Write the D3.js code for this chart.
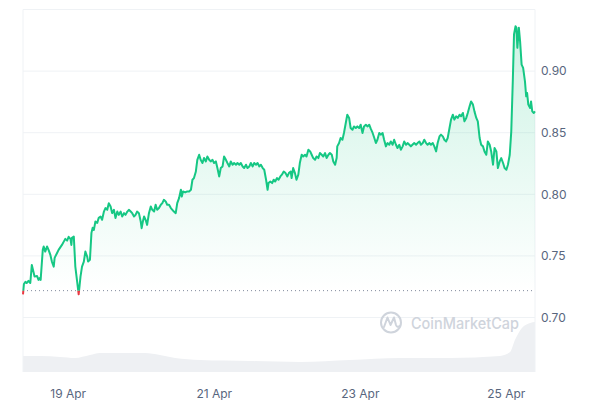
<!DOCTYPE html>
<html>
<head>
<meta charset="utf-8">
<script src="https://cdn.jsdelivr.net/npm/d3@7"></script>
<style>
  html, body { margin: 0; padding: 0; background: #ffffff; }
  svg { display: block; font-family: Inter, "Noto Sans", sans-serif; }
</style>
</head>
<body>
<svg id="chart" width="600" height="400"></svg>
<script>
// ---- data (hours since 18 Apr 00:00 UTC) ----
const hours = [
  9.3,9.6,10.1,10.5,11.1,11.7,12.2,13.1,13.9,14.4,
  14.8,15.1,15.8,16.1,16.6,17.2,17.7,18.3,18.8,19.4,
  19.7,20.5,21.0,22.1,22.7,23.2,23.8,24.3,24.9,25.2,
  25.4,26.0,26.5,27.1,27.6,28.2,28.7,29.3,29.8,30.4,
  30.7,31.3,31.8,32.2,32.6,33.1,33.7,34.2,34.8,35.3,
  35.9,36.4,37.0,37.5,38.1,38.6,39.2,39.7,40.3,40.8,
  41.4,41.9,42.5,43.0,43.6,44.1,44.7,45.2,45.8,46.3,
  46.8,47.4,48.0,48.3,48.7,49.1,49.6,50.1,50.7,51.3,
  51.8,52.4,52.9,53.4,54.0,54.6,55.1,55.6,56.2,56.7,
  57.3,57.9,58.4,58.9,59.5,60.0,60.6,61.2,61.5,61.9,
  62.6,63.3,63.9,64.5,65.0,65.5,66.1,66.6,67.2,67.7,
  68.3,68.8,69.4,69.9,70.5,71.0,71.6,72.1,72.7,73.2,
  73.8,74.3,74.9,75.4,76.0,76.5,77.1,77.6,78.2,78.7,
  79.3,79.8,80.4,80.9,81.5,82.0,82.6,83.1,83.7,84.2,
  84.8,85.3,85.9,86.4,87.0,87.5,88.1,88.6,89.2,89.7,
  90.0,90.6,91.2,91.7,92.2,92.8,93.3,93.9,94.4,95.0,
  95.6,96.2,96.7,97.3,97.6,98.1,98.7,99.2,99.8,100.3,
  100.9,101.4,102.0,102.5,103.1,103.7,104.2,104.7,105.3,105.8,
  106.4,106.9,107.5,108.0,108.6,109.1,109.7,110.2,110.8,111.3,
  111.9,112.4,112.6,113.2,113.7,114.3,114.8,115.4,115.9,116.5,
  117.0,117.6,118.1,118.7,119.2,119.8,120.3,120.9,121.4,122.0,
  122.5,123.1,123.6,124.2,124.7,125.3,125.8,126.4,126.9,127.5,
  128.0,128.6,129.1,129.7,130.2,130.8,131.3,131.9,132.4,133.0,
  133.5,134.1,134.6,135.2,135.7,136.3,136.8,137.3,137.9,138.5,
  139.0,139.6,140.1,140.7,141.2,141.8,142.3,142.9,143.4,144.0,
  144.5,145.1,145.6,146.2,146.7,147.3,147.8,148.4,148.9,149.5,
  150.0,150.6,151.1,151.7,152.2,152.8,153.3,153.9,154.4,155.0,
  155.5,156.1,156.6,157.2,157.7,158.3,158.8,159.4,159.9,160.5,
  161.0,161.6,162.1,162.7,163.2,163.8,164.3,164.9,165.4,166.0,
  166.5,167.1,167.6,168.2,168.7,169.3,169.8,170.3,170.7,171.2,
  171.5,171.8,172.3,172.7,173.2,173.7,174.3,174.7,175.0,175.4,
  176.0,176.3,176.7,177.2,177.6
];
const prices = [
  0.7188,0.7272,0.7289,0.7280,0.7297,0.7280,0.7427,0.7332,0.7337,0.7305,
  0.7321,0.7305,0.7549,0.7576,0.7535,0.7576,0.7549,0.7508,0.7454,0.7413,
  0.7484,0.7524,0.7549,0.7589,0.7616,0.7638,0.7624,0.7655,0.7638,0.7589,
  0.7646,0.7657,0.7413,0.7291,0.7188,0.7332,0.7413,0.7454,0.7535,0.7494,
  0.7454,0.7468,0.7687,0.7728,0.7711,0.7779,0.7768,0.7809,0.7820,0.7793,
  0.7860,0.7888,0.7874,0.7928,0.7901,0.7847,0.7874,0.7807,0.7860,0.7833,
  0.7860,0.7820,0.7847,0.7833,0.7860,0.7874,0.7860,0.7847,0.7820,0.7833,
  0.7860,0.7847,0.7779,0.7725,0.7779,0.7820,0.7793,0.7752,0.7847,0.7901,
  0.7874,0.7860,0.7915,0.7874,0.7888,0.7915,0.7928,0.7955,0.7942,0.7915,
  0.7915,0.7888,0.7874,0.7860,0.7847,0.7928,0.7969,0.8037,0.7982,0.8023,
  0.8015,0.8023,0.8023,0.8037,0.8118,0.8132,0.8183,0.8280,0.8321,0.8280,
  0.8254,0.8294,0.8267,0.8307,0.8280,0.8267,0.8280,0.8254,0.8267,0.8213,
  0.8145,0.8213,0.8226,0.8307,0.8280,0.8254,0.8226,0.8267,0.8240,0.8254,
  0.8240,0.8254,0.8240,0.8254,0.8226,0.8213,0.8240,0.8213,0.8226,0.8254,
  0.8226,0.8254,0.8240,0.8254,0.8226,0.8240,0.8213,0.8199,0.8118,0.8037,
  0.8091,0.8104,0.8091,0.8118,0.8104,0.8132,0.8118,0.8145,0.8159,0.8185,
  0.8172,0.8145,0.8172,0.8185,0.8132,0.8213,0.8172,0.8118,0.8159,0.8254,
  0.8321,0.8307,0.8321,0.8307,0.8362,0.8348,0.8321,0.8294,0.8280,0.8307,
  0.8294,0.8335,0.8321,0.8307,0.8335,0.8294,0.8321,0.8335,0.8321,0.8267,
  0.8240,0.8294,0.8389,0.8416,0.8457,0.8443,0.8498,0.8579,0.8646,0.8620,
  0.8538,0.8524,0.8551,0.8538,0.8551,0.8538,0.8565,0.8498,0.8551,0.8565,
  0.8551,0.8565,0.8533,0.8500,0.8463,0.8416,0.8443,0.8498,0.8484,0.8498,
  0.8443,0.8389,0.8416,0.8402,0.8429,0.8402,0.8443,0.8402,0.8376,0.8402,
  0.8362,0.8389,0.8429,0.8402,0.8416,0.8402,0.8389,0.8402,0.8416,0.8402,
  0.8416,0.8429,0.8402,0.8416,0.8443,0.8416,0.8402,0.8416,0.8402,0.8416,
  0.8389,0.8348,0.8416,0.8470,0.8484,0.8470,0.8443,0.8429,0.8457,0.8538,
  0.8606,0.8646,0.8606,0.8633,0.8620,0.8646,0.8633,0.8660,0.8592,0.8620,
  0.8660,0.8714,0.8754,0.8728,0.8673,0.8620,0.8592,0.8457,0.8402,0.8389,
  0.8348,0.8321,0.8429,0.8402,0.8348,0.8240,0.8376,0.8348,0.8213,0.8267,
  0.8294,0.8254,0.8213,0.8199,0.8240,0.8321,0.8511,0.8917,0.9297,0.9364,
  0.9351,0.9189,0.9351,0.9242,0.9053,0.9026,0.8917,0.8795,0.8823,0.8728,
  0.8701,0.8754,0.8673,0.8660,0.8673
];
const baselinePrice = 0.7218;            // dotted reference (open) price

const volHours  = [9.3, 14.9, 21.5, 26.4, 31.3, 34.6, 49.4, 54.3, 59.3, 67.5, 83.9, 100.4, 116.8, 133.2, 149.7, 166.1, 169.4, 171.0, 173.3, 176.0, 177.6];
const volumes   = [16, 16, 15, 14, 17, 19, 19, 17, 14, 12, 11, 10, 12, 14, 14, 16, 20, 32, 44, 49, 50];

const yTicks = [0.70, 0.75, 0.80, 0.85, 0.90];
const xTickLabels = ["19 Apr", "21 Apr", "23 Apr", "25 Apr"];
const xTickHours = [24, 72, 120, 168];

(function () {
// ---- setup ----
const base = Date.UTC(2024, 3, 18);
const toDate = h => new Date(base + h * 3600e3);
const series = hours.map((h, i) => ({ t: toDate(h), v: prices[i] }));
const volSeries = volHours.map((h, i) => ({ t: toDate(h), v: volumes[i] }));

const pLeft = 23, pRight = 535, pTop = 9.5, pBottom = 372;
const svg = d3.select("#chart");

const x = d3.scaleUtc().domain(d3.extent(series, d => d.t)).range([pLeft, pRight]);
const y = d3.scaleLinear().domain([0.70, 0.95]).range([317.5, pTop]);
const yv = d3.scaleLinear().domain([0, 50]).range([pBottom, 322]);

const defs = svg.append("defs");
const grad = defs.append("linearGradient").attr("id", "fillGrad")
  .attr("gradientUnits", "userSpaceOnUse")
  .attr("x1", 0).attr("x2", 0).attr("y1", y(0.94)).attr("y2", y(baselinePrice));
grad.append("stop").attr("offset", 0).attr("stop-color", "#16c784").attr("stop-opacity", 0.22);
grad.append("stop").attr("offset", 1).attr("stop-color", "#16c784").attr("stop-opacity", 0.0);

defs.append("clipPath").attr("id", "above").append("rect")
  .attr("x", 0).attr("y", 0).attr("width", 600).attr("height", y(baselinePrice));
defs.append("clipPath").attr("id", "below").append("rect")
  .attr("x", 0).attr("y", y(baselinePrice)).attr("width", 600).attr("height", 400);

// volume area
svg.append("path")
  .datum(volSeries)
  .attr("fill", "#eef0f3")
  .attr("d", d3.area().x(d => x(d.t)).y0(pBottom).y1(d => yv(d.v)).curve(d3.curveMonotoneX));

// gridlines
svg.append("g").selectAll("line").data(yTicks).join("line")
  .attr("x1", pLeft).attr("x2", pRight)
  .attr("y1", d => y(d)).attr("y2", d => y(d))
  .attr("stroke", "#eff2f5").attr("stroke-width", 1);

// frame
svg.append("path")
  .attr("d", `M${pLeft},${pBottom}V${pTop}H${pRight}V${pBottom}`)
  .attr("fill", "none").attr("stroke", "#eff2f5").attr("stroke-width", 1);

// area fill
svg.append("path")
  .datum(series)
  .attr("clip-path", "url(#above)")
  .attr("fill", "url(#fillGrad)")
  .attr("d", d3.area().x(d => x(d.t)).y0(y(baselinePrice)).y1(d => y(d.v)));

// dotted baseline
svg.append("line")
  .attr("x1", pLeft).attr("x2", pRight)
  .attr("y1", y(baselinePrice)).attr("y2", y(baselinePrice))
  .attr("stroke", "#808a9d").attr("stroke-width", 1).attr("stroke-dasharray", "1,3");

// lines
const lineGen = d3.line().x(d => x(d.t)).y(d => y(d.v));
svg.append("path").datum(series)
  .attr("clip-path", "url(#above)")
  .attr("fill", "none").attr("stroke", "#16c784").attr("stroke-width", 2)
  .attr("stroke-linejoin", "round").attr("d", lineGen);
svg.append("path").datum(series)
  .attr("clip-path", "url(#below)")
  .attr("fill", "none").attr("stroke", "#ea3943").attr("stroke-width", 2)
  .attr("stroke-linejoin", "round").attr("d", lineGen);

// y axis
const yAxis = svg.append("g").attr("transform", `translate(${pRight},0)`)
  .call(d3.axisRight(y).tickValues(yTicks).tickFormat(d3.format(".2f")).tickSize(0).tickPadding(6));
yAxis.select(".domain").remove();
yAxis.selectAll("text").attr("fill", "#58667e").attr("font-size", 12).attr("font-family", "Inter, sans-serif");

// x axis
const xAxis = svg.append("g").attr("transform", `translate(0,${pBottom})`)
  .call(d3.axisBottom(x).tickValues(xTickHours.map(toDate))
    .tickFormat((d, i) => xTickLabels[i]).tickSize(0).tickPadding(17));
xAxis.select(".domain").remove();
xAxis.selectAll("text").attr("fill", "#58667e").attr("font-size", 12).attr("font-family", "Inter, sans-serif");

// watermark
const wm = svg.append("g").attr("fill", "none").attr("stroke", "#cfd4dc");
wm.append("circle").attr("cx", 391).attr("cy", 322.5).attr("r", 10).attr("stroke-width", 2);
wm.append("path").attr("stroke-width", 2).attr("stroke-linejoin", "round").attr("stroke-linecap", "round")
  .attr("d", "M384,327 L387.5,317.5 L390.5,325 L394,317.5 L396,325 Q397,328 399.5,326");
svg.append("text").attr("x", 411).attr("y", 328.5)
  .attr("font-size", 15.5).attr("font-weight", 500).attr("fill", "#cfd4dc")
  .attr("textLength", 108).attr("lengthAdjust", "spacingAndGlyphs")
  .attr("font-family", "Inter, sans-serif").text("CoinMarketCap");
})();
</script>
</body>
</html>
